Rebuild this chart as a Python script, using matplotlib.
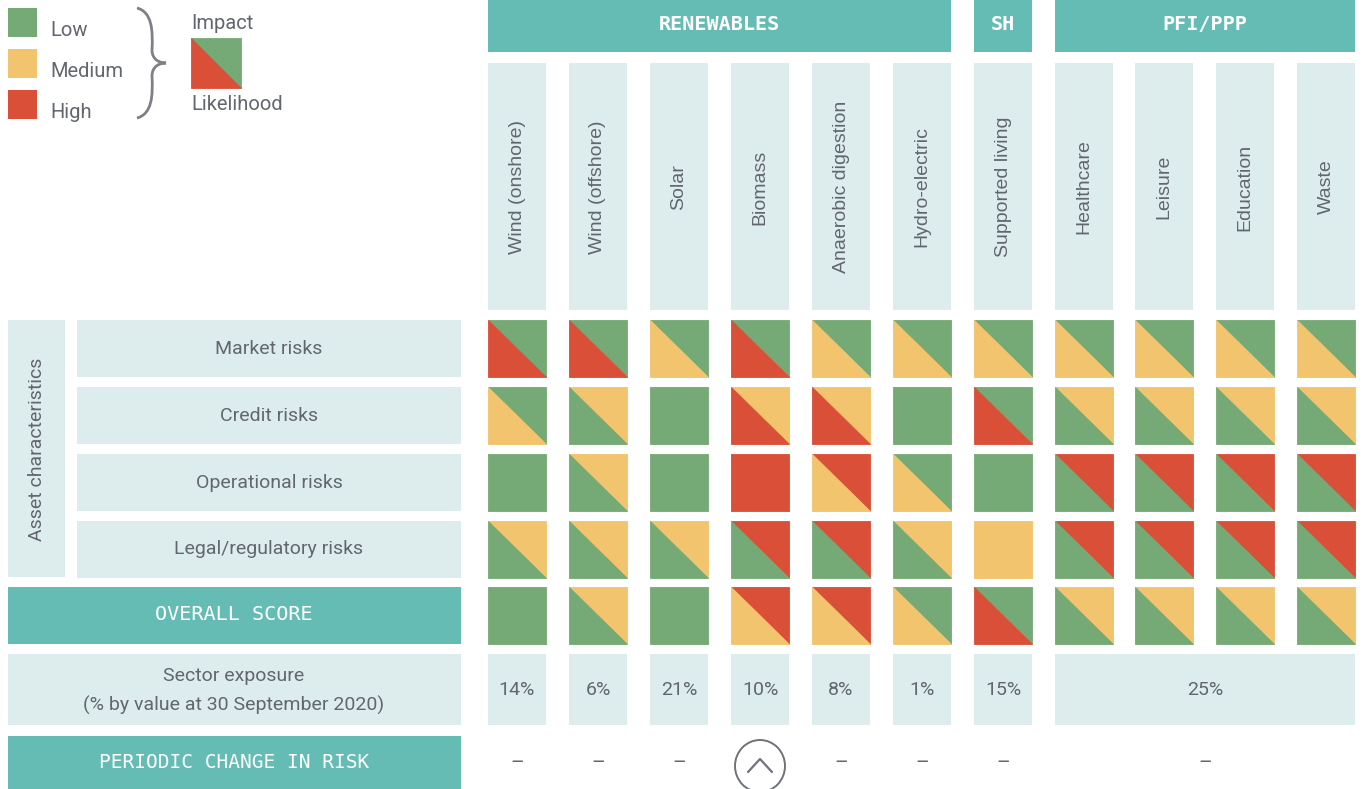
import matplotlib
matplotlib.use("Agg")
import matplotlib.pyplot as plt
from matplotlib.patches import Rectangle, Polygon, Ellipse, PathPatch
from matplotlib.path import Path

# ---------------- data ----------------
groups = ["RENEWABLES", "SH", "PFI/PPP"]
group_sizes = [6, 1, 4]
sectors = ["Wind (onshore)", "Wind (offshore)", "Solar", "Biomass",
           "Anaerobic digestion", "Hydro-electric", "Supported living",
           "Healthcare", "Leisure", "Education", "Waste"]
risk_rows = ["Market risks", "Credit risks", "Operational risks",
             "Legal/regulatory risks"]
# L = Low, M = Medium, H = High
impact = [
    ["L", "L", "L", "L", "L", "L", "L", "L", "L", "L", "L"],
    ["L", "M", "L", "M", "M", "L", "L", "M", "M", "M", "M"],
    ["L", "M", "L", "H", "H", "L", "L", "H", "H", "H", "H"],
    ["M", "M", "M", "H", "H", "M", "M", "H", "H", "H", "H"],
]
likelihood = [
    ["H", "H", "M", "H", "M", "M", "M", "M", "M", "M", "M"],
    ["M", "L", "L", "H", "H", "L", "H", "L", "L", "L", "L"],
    ["L", "L", "L", "H", "M", "M", "L", "L", "L", "L", "L"],
    ["L", "L", "L", "L", "L", "L", "M", "L", "L", "L", "L"],
]
overall_impact = ["L", "M", "L", "H", "H", "L", "L", "M", "M", "M", "M"]
overall_likelihood = ["L", "L", "L", "M", "M", "M", "H", "L", "L", "L", "L"]
exposure_labels = ["14%", "6%", "21%", "10%", "8%", "1%", "15%", "25%"]
exposure_spans = [1, 1, 1, 1, 1, 1, 1, 4]
change_labels = ["–", "–", "–", "up", "–", "–", "–", "–"]
legend_levels = ["Low", "Medium", "High"]

# ---------------- style ----------------
COL = {"L": "#75a975", "M": "#f2c46d", "H": "#d94f38"}
TEAL = "#65bcb5"
LIGHT = "#ddeded"
TXT = "#62666e"
SANS = ["Roboto", "DejaVu Sans"]
ARIAL = ["Liberation Sans", "DejaVu Sans"]
MONO = ["DejaVu Sans Mono"]

W, H = 1362, 789
fig = plt.figure(figsize=(W / 100, H / 100), dpi=100)
ax = fig.add_axes([0, 0, 1, 1])
ax.set_xlim(0, W)
ax.set_ylim(H, 0)
ax.axis("off")

col_x = [488, 569, 650, 731, 812, 893, 974, 1055, 1135, 1216, 1297]
col_w = 58
row_y = [320, 387, 454, 521]
row_h = 57


def rect(x, y, w, h, c, z=1):
    ax.add_patch(Rectangle((x, y), w, h, facecolor=c, edgecolor="none", zorder=z))


def split_cell(x, y, w, h, imp, lik):
    # upper-right triangle = impact, lower-left = likelihood
    ax.add_patch(Polygon([(x, y), (x + w, y), (x + w, y + h)], closed=True,
                         facecolor=COL[imp], edgecolor=COL[imp], lw=0.6, zorder=2))
    ax.add_patch(Polygon([(x, y), (x, y + h), (x + w, y + h)], closed=True,
                         facecolor=COL[lik], edgecolor=COL[lik], lw=0.6, zorder=2))


# ---------------- legend ----------------
for i, lev in enumerate(legend_levels):
    yy = 8 + i * 41
    rect(8, yy, 29, 29, COL[lev[0]])
    ax.text(50, yy + 22, lev, fontsize=14.5, color=TXT, family=SANS, va="center", ha="left")

brace = Path([(137, 8), (152, 12), (153, 30), (152, 50), (152, 60), (160, 63), (166, 63),
              (160, 63), (152, 66), (152, 76), (153, 96), (152, 114), (137, 118)],
             [Path.MOVETO, Path.CURVE4, Path.CURVE4, Path.CURVE4, Path.CURVE4, Path.CURVE4,
              Path.CURVE4, Path.CURVE4, Path.CURVE4, Path.CURVE4, Path.CURVE4, Path.CURVE4,
              Path.CURVE4])
ax.add_patch(PathPatch(brace, facecolor="none", edgecolor="#7d8086", lw=2.0, zorder=3))

ax.text(191, 23, "Impact", fontsize=14.5, color=TXT, family=SANS, va="center", ha="left")
split_cell(191, 38, 50, 50, "L", "H")
ax.text(191, 104, "Likelihood", fontsize=14.5, color=TXT, family=SANS, va="center", ha="left")

# ---------------- group headers ----------------
start = 0
for g, n in zip(groups, group_sizes):
    x0 = col_x[start]
    x1 = col_x[start + n - 1] + col_w
    rect(x0, 0, x1 - x0, 52, TEAL)
    ax.text((x0 + x1) / 2, 24, g, fontsize=14.5, color="white", family=MONO,
            fontweight="bold", ha="center", va="center")
    start += n

# ---------------- column labels ----------------
for x, s in zip(col_x, sectors):
    rect(x, 63, col_w, 247, LIGHT)
    ax.text(x + col_w / 2, 187, s, rotation=90, fontsize=14, color=TXT, family=ARIAL,
            ha="center", va="center")

# ---------------- left labels ----------------
rect(8, 320, 57, 257, LIGHT)
ax.text(37, 449, "Asset characteristics", rotation=90, fontsize=14, color=TXT,
        family=SANS, ha="center", va="center")
for yy, lab in zip(row_y, risk_rows):
    rect(77, yy, 384, row_h, LIGHT)
    ax.text(269, yy + row_h / 2, lab, fontsize=14, color=TXT, family=SANS,
            ha="center", va="center")

rect(8, 587, 453, 57, TEAL)
ax.text(234, 615, "OVERALL SCORE", fontsize=14.5, color="white", family=MONO,
        ha="center", va="center")
rect(8, 654, 453, 71, LIGHT)
ax.text(234, 676, "Sector exposure", fontsize=14, color=TXT, family=SANS,
        ha="center", va="center")
ax.text(234, 705, "(% by value at 30 September 2020)", fontsize=14, color=TXT,
        family=SANS, ha="center", va="center")
rect(8, 736, 453, 60, TEAL)
ax.text(234, 763, "PERIODIC CHANGE IN RISK", fontsize=14, color="white", family=MONO,
        ha="center", va="center")

# ---------------- risk cells ----------------
for r, yy in enumerate(row_y):
    for c, x in enumerate(col_x):
        split_cell(x, yy, col_w, row_h, impact[r][c], likelihood[r][c])
for c, x in enumerate(col_x):
    split_cell(x, 587, col_w, 57, overall_impact[c], overall_likelihood[c])

# ---------------- exposure & change ----------------
start = 0
for lab, span, ch in zip(exposure_labels, exposure_spans, change_labels):
    x0 = col_x[start]
    x1 = col_x[start + span - 1] + col_w
    rect(x0, 654, x1 - x0, 71, LIGHT)
    cx = (x0 + x1) / 2
    ax.text(cx, 690, lab, fontsize=14, color=TXT, family=SANS, ha="center", va="center")
    if ch == "up":
        ax.add_patch(Ellipse((cx, 766), 50, 52, facecolor="none", edgecolor="#6f7278",
                             lw=1.4, zorder=3))
        ax.plot([cx - 12, cx, cx + 12], [772, 759, 772], color="#6f7278", lw=1.6,
                zorder=3, solid_capstyle="round")
    else:
        ax.text(cx, 763, ch, fontsize=15, color=TXT, family=SANS, ha="center", va="center")
    start += span

fig.savefig("out.png", dpi=100, facecolor="white")
